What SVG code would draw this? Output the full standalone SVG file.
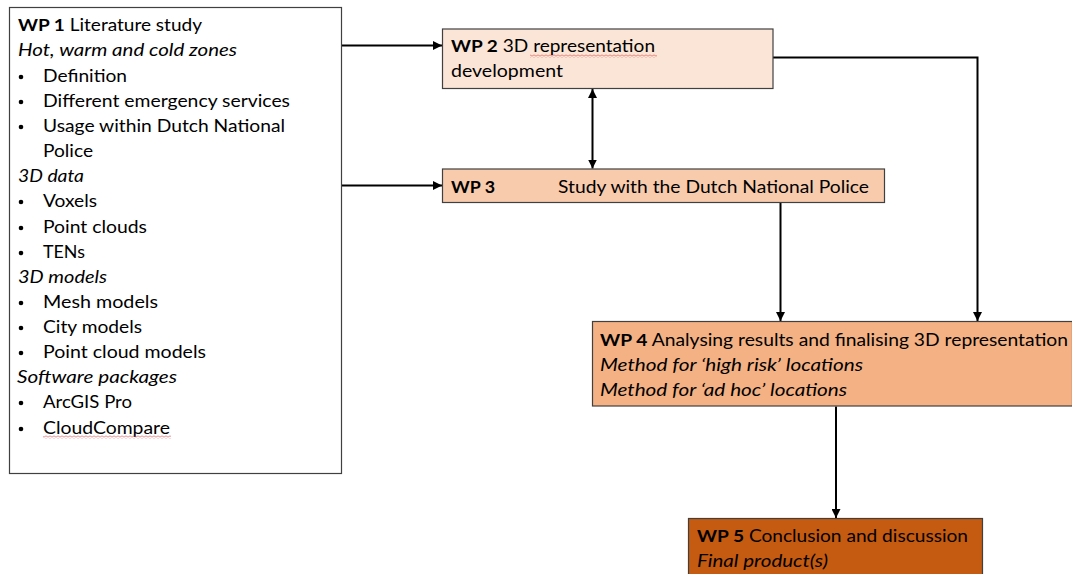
<svg xmlns="http://www.w3.org/2000/svg" width="1072" height="574" viewBox="0 0 1072 574">
<style>
  text { font-family: Lato, "Open Sans", "Liberation Sans", sans-serif; font-size: 17px; fill: #000; }
  .b { font-weight: bold; }
  .i { font-style: italic; }
  .box { stroke: #404040; stroke-width: 1.2; }
  .conn { stroke: #000; stroke-width: 2; fill: none; }
  .dot { fill: #000; }
</style>
<defs>
  <marker id="ah" markerUnits="userSpaceOnUse" markerWidth="10" markerHeight="9" refX="9" refY="4.5" orient="auto-start-reverse">
    <path d="M0,0 L9,4.5 L0,9 Z" fill="#000"/>
  </marker>
  <pattern id="squig" width="4" height="3" patternUnits="userSpaceOnUse">
    <path d="M0,2.5 L2,0.5 L4,2.5" stroke="#e04040" stroke-width="0.8" fill="none"/>
  </pattern>
</defs>
<rect width="1072" height="574" fill="#fff"/>

<g id="connectors">
  <line class="conn" x1="342" y1="45.5" x2="442" y2="45.5" marker-end="url(#ah)"/>
  <line class="conn" x1="342" y1="185.5" x2="442" y2="185.5" marker-end="url(#ah)"/>
  <line class="conn" x1="592.5" y1="89" x2="592.5" y2="168.5" marker-start="url(#ah)" marker-end="url(#ah)"/>
  <polyline class="conn" points="773,57.5 977.5,57.5 977.5,321" marker-end="url(#ah)"/>
  <line class="conn" x1="780.5" y1="203" x2="780.5" y2="321" marker-end="url(#ah)"/>
  <line class="conn" x1="836" y1="406.5" x2="836" y2="518" marker-end="url(#ah)"/>
</g>

<g id="wp1">
  <rect class="box" x="9.5" y="7.5" width="332" height="466" fill="#fff"/>
  <text x="18" y="31" textLength="184" lengthAdjust="spacingAndGlyphs"><tspan class="b">WP 1</tspan> Literature study</text>
  <text class="i" x="18" y="56" textLength="219" lengthAdjust="spacingAndGlyphs">Hot, warm and cold zones</text>
  <circle class="dot" cx="21" cy="77" r="2.3"/><text x="43" y="81.5" textLength="84" lengthAdjust="spacingAndGlyphs">Definition</text>
  <circle class="dot" cx="21" cy="102" r="2.3"/><text x="43" y="106.5" textLength="247" lengthAdjust="spacingAndGlyphs">Different emergency services</text>
  <circle class="dot" cx="21" cy="127" r="2.3"/><text x="43" y="131.5" textLength="242" lengthAdjust="spacingAndGlyphs">Usage within Dutch National</text>
  <text x="43" y="156.5" textLength="50" lengthAdjust="spacingAndGlyphs">Police</text>
  <text class="i" x="18" y="181.5" textLength="66" lengthAdjust="spacingAndGlyphs">3D data</text>
  <circle class="dot" cx="21" cy="202" r="2.3"/><text x="43" y="206.5" textLength="54" lengthAdjust="spacingAndGlyphs">Voxels</text>
  <circle class="dot" cx="21" cy="228" r="2.3"/><text x="43" y="232.5" textLength="104" lengthAdjust="spacingAndGlyphs">Point clouds</text>
  <circle class="dot" cx="21" cy="253" r="2.3"/><text x="43" y="257.5" textLength="42" lengthAdjust="spacingAndGlyphs">TENs</text>
  <text class="i" x="18" y="282.5" textLength="89" lengthAdjust="spacingAndGlyphs">3D models</text>
  <circle class="dot" cx="21" cy="303" r="2.3"/><text x="43" y="307.5" textLength="115" lengthAdjust="spacingAndGlyphs">Mesh models</text>
  <circle class="dot" cx="21" cy="328" r="2.3"/><text x="43" y="332.5" textLength="99" lengthAdjust="spacingAndGlyphs">City models</text>
  <circle class="dot" cx="21" cy="353" r="2.3"/><text x="43" y="357.5" textLength="163" lengthAdjust="spacingAndGlyphs">Point cloud models</text>
  <text class="i" x="17" y="382.5" textLength="160" lengthAdjust="spacingAndGlyphs">Software packages</text>
  <circle class="dot" cx="21" cy="403" r="2.3"/><text x="43" y="407.5" textLength="89" lengthAdjust="spacingAndGlyphs">ArcGIS Pro</text>
  <circle class="dot" cx="21" cy="429" r="2.3"/><text x="43" y="433.5" textLength="127" lengthAdjust="spacingAndGlyphs">CloudCompare</text>
  <rect x="43" y="435.5" width="128" height="3" fill="url(#squig)"/>
</g>

<g id="wp2">
  <rect class="box" x="442.5" y="29" width="330.5" height="59.5" fill="#FBE5D6"/>
  <text x="451" y="51.5" textLength="204" lengthAdjust="spacingAndGlyphs"><tspan class="b">WP 2</tspan> 3D representation</text>
  <text x="451" y="77" textLength="112" lengthAdjust="spacingAndGlyphs">development</text>
  <rect x="530" y="54.5" width="127" height="3" fill="url(#squig)"/>
</g>

<g id="wp3">
  <rect class="box" x="442.5" y="169" width="442" height="33.5" fill="#F8CBAD"/>
  <text class="b" x="451" y="193" textLength="44" lengthAdjust="spacingAndGlyphs">WP 3</text>
  <text x="558" y="193" textLength="311" lengthAdjust="spacingAndGlyphs">Study with the Dutch National Police</text>
</g>

<g id="wp4">
  <rect class="box" x="592.5" y="321.5" width="480" height="84.5" fill="#F4B183"/>
  <text x="600" y="346" textLength="468" lengthAdjust="spacingAndGlyphs"><tspan class="b">WP 4</tspan> Analysing results and finalising 3D representation</text>
  <text class="i" x="600" y="371" textLength="263" lengthAdjust="spacingAndGlyphs">Method for ‘high risk’ locations</text>
  <text class="i" x="600" y="396" textLength="247" lengthAdjust="spacingAndGlyphs">Method for ‘ad hoc’ locations</text>
</g>

<g id="wp5">
  <rect class="box" x="688.5" y="518.5" width="294" height="70" fill="#C55A11"/>
  <text x="697" y="542" textLength="271" lengthAdjust="spacingAndGlyphs"><tspan class="b">WP 5</tspan> Conclusion and discussion</text>
  <text class="i" x="697" y="567" textLength="131" lengthAdjust="spacingAndGlyphs">Final product(s)</text>
</g>
</svg>
